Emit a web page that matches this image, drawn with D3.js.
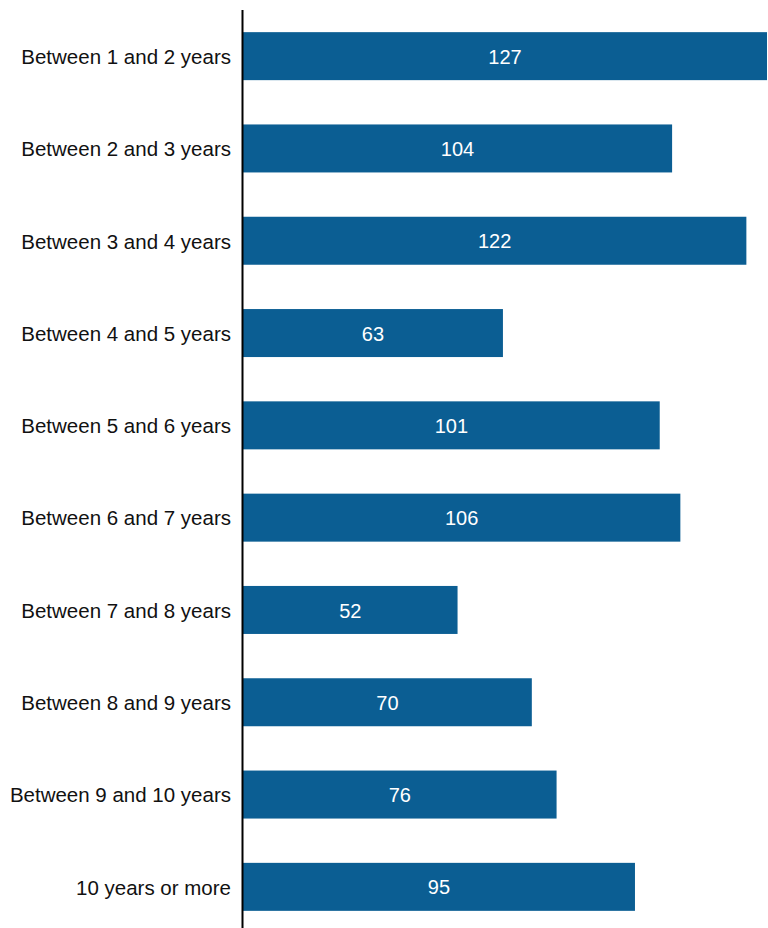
<!DOCTYPE html>
<html>
<head>
<meta charset="utf-8">
<script src="https://cdn.jsdelivr.net/npm/d3@7"></script>
<style>
  body { margin: 0; background: #fff; }
  svg text { font-family: "Liberation Sans", Arial, Helvetica, sans-serif; }
</style>
</head>
<body>
<div id="chart"></div>
<script>
const categories = [
  "Between 1 and 2 years", "Between 2 and 3 years", "Between 3 and 4 years",
  "Between 4 and 5 years", "Between 5 and 6 years", "Between 6 and 7 years",
  "Between 7 and 8 years", "Between 8 and 9 years", "Between 9 and 10 years",
  "10 years or more"
];
const values = [127, 104, 122, 63, 101, 106, 52, 70, 76, 95];

const width = 768, height = 928;
const left = 243, right = 767;

const svg = d3.select("#chart").append("svg")
  .attr("width", width)
  .attr("height", height);

const x = d3.scaleLinear()
  .domain([0, d3.max(values)])
  .range([left, right]);

const y = d3.scaleBand()
  .domain(categories)
  .range([10, 933])
  .paddingInner(0.48)
  .paddingOuter(0.24);

const data = categories.map((c, i) => ({ cat: c, val: values[i] }));

// bars
svg.selectAll("rect.bar")
  .data(data)
  .join("rect")
  .attr("class", "bar")
  .attr("x", x(0))
  .attr("y", d => y(d.cat))
  .attr("width", d => x(d.val) - x(0))
  .attr("height", y.bandwidth())
  .attr("fill", "#0b5e93");

// value labels
svg.selectAll("text.val")
  .data(data)
  .join("text")
  .attr("class", "val")
  .attr("x", d => (x(0) + x(d.val)) / 2)
  .attr("y", d => y(d.cat) + y.bandwidth() / 2)
  .attr("dy", "0.38em")
  .attr("text-anchor", "middle")
  .attr("fill", "#fff")
  .style("font-size", "20px")
  .text(d => d.val);

// y axis
const yAxis = svg.append("g")
  .attr("transform", `translate(${left},0)`)
  .call(d3.axisLeft(y).tickSize(0).tickPadding(12));
yAxis.select(".domain").remove();
yAxis.selectAll("text")
  .attr("dy", "0.38em")
  .style("font-size", "20.5px")
  .attr("fill", "#111");

svg.append("line")
  .attr("x1", left - 0.5).attr("x2", left - 0.5)
  .attr("y1", 10).attr("y2", height)
  .attr("stroke", "#000")
  .attr("stroke-width", 2);
</script>
</body>
</html>
